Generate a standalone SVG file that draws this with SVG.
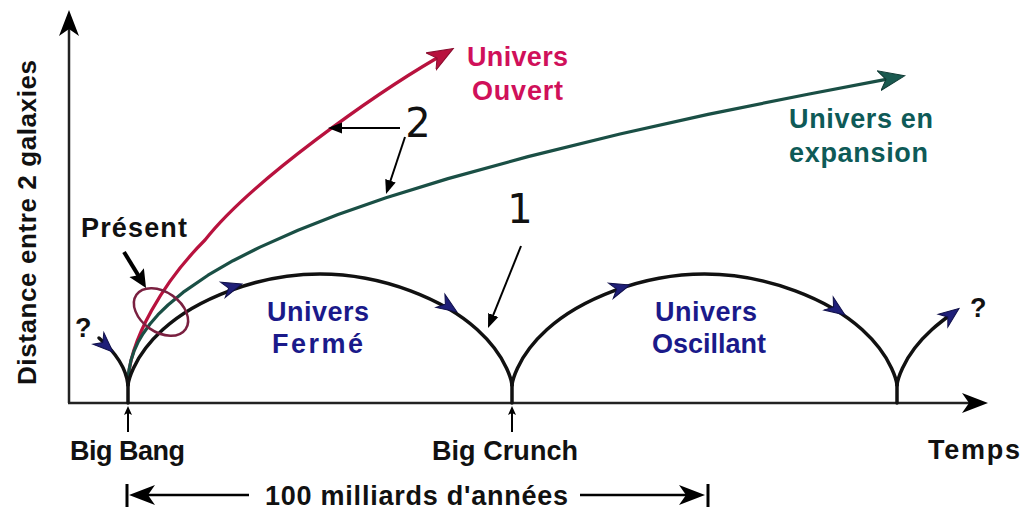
<svg xmlns="http://www.w3.org/2000/svg" xmlns:xlink="http://www.w3.org/1999/xlink" width="1024" height="511" viewBox="0 0 1024 511">
<style>
.t{font-family:"Liberation Sans",Arial,sans-serif;font-weight:bold;font-size:27px}
.k{fill:#111}
.nv{fill:#1a1a8a}
.rd{fill:#d0105a}
.tl{fill:#0e5a57}
.num{font-family:"DejaVu Sans",sans-serif;font-size:40px;fill:#111}
.ax{stroke:#222;stroke-width:2.5;fill:none}
.blk{stroke:#111;stroke-width:3.5;fill:none;stroke-linecap:round}
.ann{stroke:#000;stroke-width:2;fill:none}
</style>
<defs>
<marker id="axh" viewBox="0 -11 26 22" refX="7" refY="0" markerWidth="26" markerHeight="22" markerUnits="userSpaceOnUse" orient="auto"><path d="M26,0 L0,-10 L7,0 L0,10 Z" fill="#000"/></marker>
<marker id="ah" viewBox="0 -6 14 12" refX="10" refY="0" markerWidth="14" markerHeight="12" markerUnits="userSpaceOnUse" orient="auto"><path d="M14,0 L0,-5.5 L0,5.5 Z" fill="#000"/></marker>
<marker id="ahb" viewBox="0 -9 18 18" refX="12" refY="0" markerWidth="18" markerHeight="18" markerUnits="userSpaceOnUse" orient="auto"><path d="M18,0 L0,-8.5 L3,0 L0,8.5 Z" fill="#000"/></marker>
<marker id="sah" viewBox="0 -5 9 10" refX="2" refY="0" markerWidth="9" markerHeight="10" markerUnits="userSpaceOnUse" orient="auto"><path d="M9,0 L0,-4 L2,0 L0,4 Z" fill="#000"/></marker>
<marker id="redh" viewBox="0 -11 27 22" refX="7" refY="0" markerWidth="27" markerHeight="22" markerUnits="userSpaceOnUse" orient="auto"><path d="M26,0 L0,-10 L7,0 L0,10 Z" fill="#b8123e" stroke="#8a0e30" stroke-width="1"/></marker>
<marker id="tealh" viewBox="0 -11 27 22" refX="7" refY="0" markerWidth="27" markerHeight="22" markerUnits="userSpaceOnUse" orient="auto"><path d="M26,0 L0,-10 L7,0 L0,10 Z" fill="#1a5a50" stroke="#0f3a34" stroke-width="1"/></marker>
<path id="nav" d="M0,0 L-20,-8 L-14,0 L-20,8 Z" fill="#1f1f78" stroke="#10104a" stroke-width="1"/>
</defs>

<g id="axes">
<line class="ax" x1="69" y1="403" x2="69" y2="29" marker-end="url(#axh)"/>
<line class="ax" x1="68" y1="403" x2="969" y2="403" marker-end="url(#axh)"/>
<line class="ann" x1="128" y1="432" x2="128" y2="413" marker-end="url(#sah)"/>
<line class="ann" x1="512" y1="432" x2="512" y2="413" marker-end="url(#sah)"/>
</g>

<g id="curves">
<path id="ouvert" d="M128,385 C128,340 165,280 205,240 C252,180 377,93 437,58" stroke="#b8123e" stroke-width="3.2" fill="none" marker-end="url(#redh)"/>
<path id="expansion" d="M128,385 L128.3,376.4 L129,370 L131,360.3 L134,351.2 L138,342.3 L143,333.7 L150,324 L158,314.7 L168,305 L183,292.4 L208,275.2 L233,260.7 L260,247.1 L298,230.2 L338,214.6 L386,197.8 L448,178.6 L528,156.6 L620,134 L708,114.4 L808,94.2 L886,79.4" stroke="#1a4f45" stroke-width="3.2" fill="none" stroke-linejoin="round" marker-end="url(#tealh)"/>
<path id="ferme" class="blk" d="M128,385 C128,385 130.88,358.56 162.88,329.5 C194.88,300.44 256,274 320,274 C384,274 445.12,300.44 477.12,329.5 C509.12,358.56 512,385 512,385"/>
<path id="oscillant" class="blk" d="M512,385 C512,385 514.89,358.56 546.97,329.5 C579.05,300.44 640.34,274 704.5,274 C768.66,274 829.95,300.44 862.03,329.5 C894.11,358.56 897,385 897,385"/>
<path id="suite" class="blk" d="M897,385 C897,385 899.89,358.56 931.97,329.5 C937,325 944,319.5 952,313.5"/>
<path id="avant" class="blk" d="M99,338 C114,351 126,366 128,385"/>
<path class="blk" d="M128,385 V403 M512,385 V403 M897,385 V403"/>
<use xlink:href="#nav" transform="translate(242,284) rotate(-17)"/>
<use xlink:href="#nav" transform="translate(457,312) rotate(34)"/>
<use xlink:href="#nav" transform="translate(630,285) rotate(-17)"/>
<use xlink:href="#nav" transform="translate(845,315) rotate(35)"/>
<use xlink:href="#nav" transform="translate(959,308.5) rotate(-37)"/>
<use xlink:href="#nav" transform="translate(113,352) rotate(43)"/>
<ellipse cx="161" cy="312" rx="30" ry="20" transform="rotate(35 161 312)" fill="none" stroke="#7a2040" stroke-width="2.5"/>
</g>

<g id="annotations">
<line class="ann" x1="400" y1="128" x2="332" y2="128" marker-end="url(#ah)"/>
<line class="ann" x1="405" y1="137" x2="387.3" y2="190.2" marker-end="url(#ah)"/>
<line class="ann" x1="521" y1="246" x2="489.5" y2="324.3" marker-end="url(#ah)"/>
<line x1="124" y1="252" x2="142.9" y2="282.9" stroke="#000" stroke-width="4" marker-end="url(#ahb)"/>
<text class="num" x="418" y="137" text-anchor="middle">2</text>
<text class="num" x="520" y="223" text-anchor="middle">1</text>
</g>

<g id="span">
<line x1="127" y1="484" x2="127" y2="507" stroke="#000" stroke-width="3"/>
<line x1="249" y1="495" x2="148" y2="495" stroke="#000" stroke-width="2.5" marker-end="url(#axh)"/>
<line x1="580" y1="495" x2="686" y2="495" stroke="#000" stroke-width="2.5" marker-end="url(#axh)"/>
<line x1="708" y1="484" x2="708" y2="507" stroke="#000" stroke-width="3"/>
<text class="t k" x="416.5" y="505" text-anchor="middle" textLength="303" lengthAdjust="spacing">100 milliards d'années</text>
</g>

<g id="labels">
<text class="t k" style="font-size:26px" transform="translate(36,222.5) rotate(-90)" text-anchor="middle" textLength="325" lengthAdjust="spacing">Distance entre 2 galaxies</text>
<text class="t k" x="127.5" y="460" text-anchor="middle" textLength="115" lengthAdjust="spacing">Big Bang</text>
<text class="t k" x="505" y="460" text-anchor="middle" textLength="146" lengthAdjust="spacing">Big Crunch</text>
<text class="t k" x="928" y="459" textLength="92" lengthAdjust="spacing">Temps</text>
<text class="t k" x="81" y="237" textLength="106" lengthAdjust="spacing">Présent</text>
<text class="t k" x="75" y="337">?</text>
<text class="t k" x="970" y="317">?</text>
<text class="t rd" x="517.5" y="66" text-anchor="middle" textLength="101" lengthAdjust="spacing">Univers</text>
<text class="t rd" x="517.5" y="100" text-anchor="middle" textLength="91" lengthAdjust="spacing">Ouvert</text>
<text class="t tl" x="789" y="128" textLength="144" lengthAdjust="spacing">Univers en</text>
<text class="t tl" x="789" y="162" textLength="139" lengthAdjust="spacing">expansion</text>
<text class="t nv" x="318" y="321" text-anchor="middle" textLength="102" lengthAdjust="spacing">Univers</text>
<text class="t nv" x="317.5" y="353" text-anchor="middle" textLength="91" lengthAdjust="spacing">Fermé</text>
<text class="t nv" x="706" y="321" text-anchor="middle" textLength="102" lengthAdjust="spacing">Univers</text>
<text class="t nv" x="709" y="353" text-anchor="middle" textLength="114" lengthAdjust="spacing">Oscillant</text>
</g>
</svg>
